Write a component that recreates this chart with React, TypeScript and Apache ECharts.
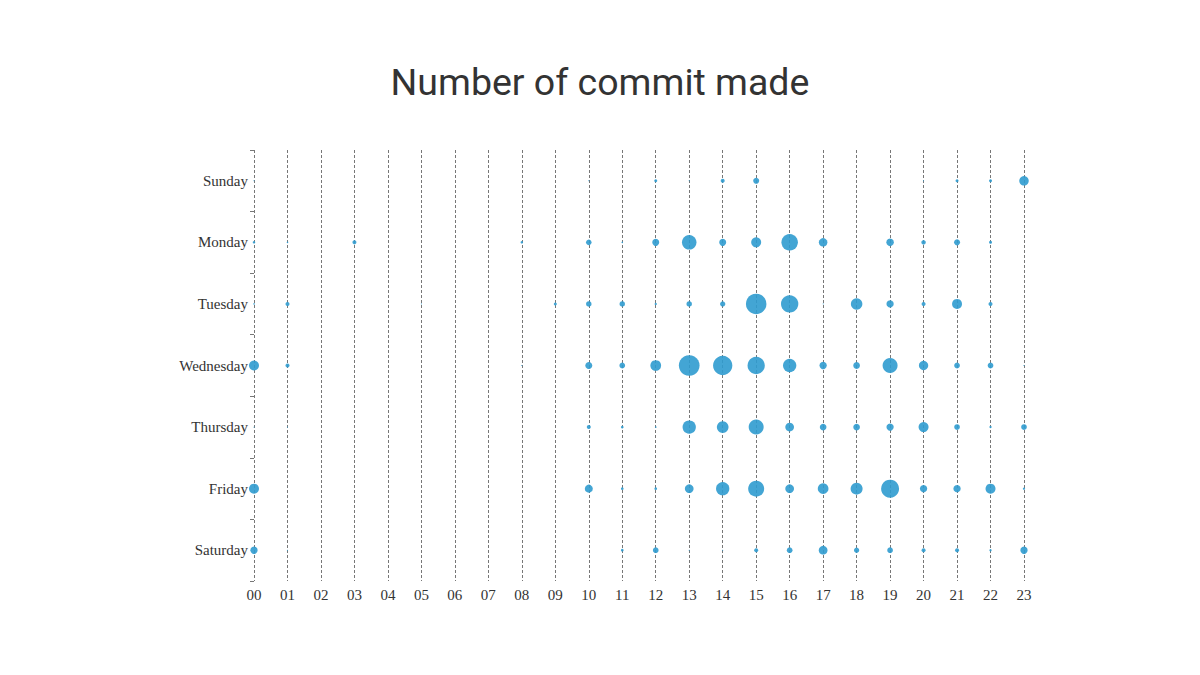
import React, { useEffect, useRef } from "react";
import * as echarts from "echarts";

const hours = ["00","01","02","03","04","05","06","07","08","09","10","11","12","13","14","15","16","17","18","19","20","21","22","23"];
const days = ["Saturday","Friday","Thursday","Wednesday","Tuesday","Monday","Sunday"];

// commit "size" per hour (00..23) for each day
const sunday    = [1,0,0,0,0,0,0,0,0,0,1,0,3,1,4,6,0,0,0,0,1,3,3,9.5];
const monday    = [2.5,1.5,0,4,0,0,0,0,2.5,0,5.5,1.5,7,14.5,7,10,16.5,8.5,0,7.5,4.5,6,3,0];
const tuesday   = [1.5,4,0,0,0,1,0,0,0,3,5.5,5.5,2.3,5.5,5.3,20.5,17.3,1,11.5,7.3,4,10,4,0];
const wednesday = [10,4,0,0,0,0,0,0,1,0,7,5.7,10.7,20.7,19.3,17.3,13.3,7.3,6.7,15,9.3,5.7,5.7,1];
const thursday  = [1,1,0,0,0,0,0,0,0,0,4,2.7,1.5,13.3,11.7,15,8.7,6.7,6.7,7.3,10,5.7,2.3,5.7];
const friday    = [10,0,0,0,0,0,0,0,0,0,8,2.7,2.7,8.7,13.3,16,8.7,10.7,12,18,7.3,7.3,10,2.3];
const saturday  = [7.3,1,0,0,0,0,0,0,0,0,0,2.7,5.7,1,1,4,5.7,8.7,5.3,5.7,4,4,2.3,7.3];

const rows: Record<string, number[]> = {
  Sunday: sunday, Monday: monday, Tuesday: tuesday, Wednesday: wednesday,
  Thursday: thursday, Friday: friday, Saturday: saturday,
};

export default function App() {
  const ref = useRef<HTMLDivElement>(null);
  useEffect(() => {
    if (!ref.current) return;
    const chart = echarts.init(ref.current, null, { renderer: "svg" });
    const data: [number, number, number][] = [];
    days.forEach((d, di) => {
      rows[d].forEach((v, hi) => {
        if (v > 0) data.push([hi, di, v]);
      });
    });
    chart.setOption({
      animation: false,
      backgroundColor: "#ffffff",
      title: {
        text: "Number of commit made",
        left: "center",
        top: 58,
        textStyle: { fontFamily: "Roboto", fontSize: 37.5, fontWeight: "normal", color: "#333333" },
      },
      grid: { left: 254, right: 176, top: 150, bottom: 94 },
      xAxis: {
        type: "category",
        data: hours,
        boundaryGap: false,
        axisLine: { show: false },
        axisTick: { show: false },
        axisLabel: { fontFamily: "Liberation Serif", fontSize: 15, color: "#333333", margin: 6 },
        splitLine: { show: true, lineStyle: { type: [3, 2], color: "#777777", width: 1 } },
      },
      yAxis: {
        type: "category",
        data: days,
        boundaryGap: true,
        axisLine: { show: false },
        axisTick: { show: true, length: 4, lineStyle: { color: "#777777" } },
        axisLabel: { fontFamily: "Liberation Serif", fontSize: 15, color: "#333333", margin: 6 },
        splitLine: { show: false },
      },
      series: [
        {
          type: "scatter",
          data,
          symbolSize: (val: number[]) => val[2],
          itemStyle: { color: "#2f9bcf", opacity: 0.9 },
        },
      ],
    });
    return () => chart.dispose();
  }, []);
  return <div ref={ref} style={{ width: 1200, height: 675, margin: -8 }} />;
}
